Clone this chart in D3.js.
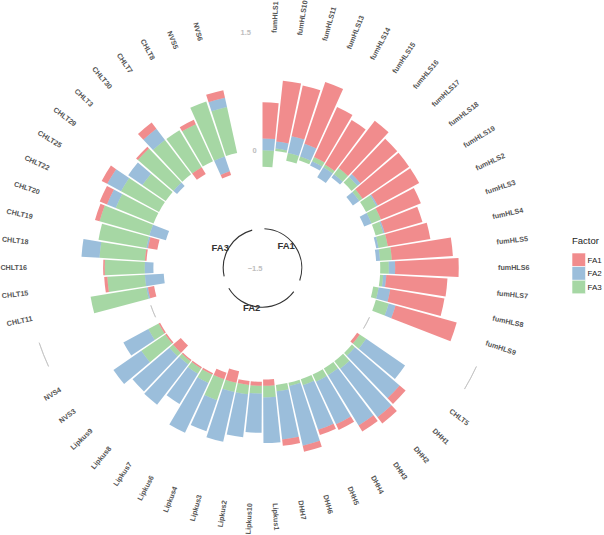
<!DOCTYPE html>
<html>
<head>
<meta charset="utf-8">
<script src="https://cdn.jsdelivr.net/npm/d3@7"></script>
<style>
  body { margin: 0; background: #fff; }
  text { font-family: "Liberation Sans", Arial, sans-serif; }
</style>
</head>
<body>
<div id="chart"></div>
<script>
// ---- data ----
var factors = ["FA1", "FA2", "FA3"];
var colors = ["#E41A1C", "#377EB8", "#4DAF4A"];

var items = [
  "fumHLS1", "fumHLS10", "fumHLS11", "fumHLS13", "fumHLS14", "fumHLS15", "fumHLS16", "fumHLS17", "fumHLS18",
  "fumHLS19", "fumHLS2", "fumHLS3", "fumHLS4", "fumHLS5", "fumHLS6", "fumHLS7", "fumHLS8", "fumHLS9",
  "CHLT5", "DHH1", "DHH2", "DHH3", "DHH4", "DHH5", "DHH6", "DHH7", "Lipkus1", "Lipkus10", "Lipkus2",
  "Lipkus3", "Lipkus4", "Lipkus6", "Lipkus7", "Lipkus8", "Lipkus9", "NVS3", "NVS4",
  "CHLT11", "CHLT15", "CHLT16", "CHLT18", "CHLT19", "CHLT20", "CHLT22", "CHLT25", "CHLT29", "CHLT3",
  "CHLT30", "CHLT7", "CHLT8", "NVS5", "NVS6"
];
var itemGroup = [
  "FA1", "FA1", "FA1", "FA1", "FA1", "FA1", "FA1", "FA1", "FA1", "FA1", "FA1", "FA1", "FA1", "FA1", "FA1", "FA1", "FA1", "FA1",
  "FA2", "FA2", "FA2", "FA2", "FA2", "FA2", "FA2", "FA2", "FA2", "FA2", "FA2", "FA2", "FA2", "FA2", "FA2", "FA2", "FA2", "FA2", "FA2",
  "FA3", "FA3", "FA3", "FA3", "FA3", "FA3", "FA3", "FA3", "FA3", "FA3", "FA3", "FA3", "FA3", "FA3", "FA3"
];
var loadFA1 = [
  0.46, 0.78, 0.66, 0.83, 0.70, 0.66, 0.76, 0.62, 0.72, 0.60, 0.55, 0.50, 0.55, 0.78, 0.81, 0.78, 0.70, 0.81,
  -0.04, 0.10, 0.10, 0.09, 0.08, 0.07, 0.08, 0.08, -0.08, -0.05, -0.05, -0.15, -0.09, -0.02, -0.02, -0.02, -0.13, -0.02, -0.02,
  -0.08, 0.04, 0.02, -0.02, -0.12, 0.06, 0.10, 0.08, 0.00, 0.03, 0.10, -0.10, 0.06, -0.05, 0.10
];
var loadFA2 = [
  0.15, 0.09, 0.22, 0.17, -0.06, -0.15, -0.05, 0.05, -0.10, 0.02, -0.10, 0.02, -0.03, -0.05, 0.08, 0.04, 0.15, 0.09,
  0.60, 0.75, 0.78, 0.75, 0.60, 0.60, 0.78, 0.62, 0.58, 0.50, 0.55, 0.65, 0.42, 0.70, 0.45, 0.65, 0.62, 0.43, 0.36,
  -0.02, -0.24, -0.11, 0.23, -0.02, -0.22, 0.12, 0.20, 0.22, -0.06, 0.18, 0.00, 0.00, -0.20, 0.12
];
var loadFA3 = [
  -0.21, 0.03, -0.10, -0.05, 0.06, 0.04, 0.10, 0.10, 0.05, 0.15, 0.13, 0.10, 0.12, 0.15, 0.11, 0.04, -0.07, 0.17,
  0.10, 0.05, 0.12, 0.10, 0.10, 0.08, 0.04, 0.08, 0.15, 0.10, 0.12, 0.12, 0.28, 0.12, 0.08, 0.05, 0.06, 0.37, 0.15,
  0.72, 0.48, 0.51, 0.58, 0.62, 0.66, 0.52, 0.55, 0.36, 0.60, 0.55, 0.55, 0.52, 0.74, 0.60
];
var yTicks = [-1.5, 0, 1.5];
var emptyBars = 2;

// ---- layout ----
var width = 604, height = 535;
var cx = 262.5, cy = 268;

var svg = d3.select("#chart").append("svg")
  .attr("width", width)
  .attr("height", height);

var g = svg.append("g").attr("transform", "translate(" + cx + "," + cy + ")");

// give every item an id, leaving empty slots after each group
var rows = [];
var id = 0;
factors.forEach(function (f) {
  items.forEach(function (name, i) {
    if (itemGroup[i] != f) return;
    id++;
    rows.push({ id: id, name: name, group: f, vals: [loadFA1[i], loadFA2[i], loadFA3[i]] });
  });
  id += emptyBars;
});
var nBar = id;

var x = d3.scaleLinear().domain([0.55, nBar + 0.45]).range([0, 2 * Math.PI]);
var r = d3.scaleLinear().domain([-1.5, 1.5]).range([0, 235.5]);

// stack: FA3 nearest to zero, then FA2, then FA1 (positives out, negatives in)
var segs = [];
rows.forEach(function (d) {
  var pos = 0, neg = 0;
  [2, 1, 0].forEach(function (k) {
    var v = d.vals[k];
    if (v >= 0) { segs.push({ id: d.id, k: k, y0: pos, y1: pos + v }); pos += v; }
    else { segs.push({ id: d.id, k: k, y0: neg + v, y1: neg }); neg += v; }
  });
});

var arc = d3.arc()
  .startAngle(function (d) { return x(d.id - 0.45); })
  .endAngle(function (d) { return x(d.id + 0.45); })
  .innerRadius(function (d) { return r(d.y0); })
  .outerRadius(function (d) { return r(d.y1); });

g.append("g").selectAll("path")
  .data(segs.filter(function (d) { return d.y1 > d.y0; }))
  .enter().append("path")
  .attr("d", arc)
  .attr("fill", function (d) { return colors[d.k]; })
  .attr("fill-opacity", 0.5);

// grey grid segments in the gaps between groups
var groupInfo = factors.map(function (f) {
  var ids = rows.filter(function (d) { return d.group == f; }).map(function (d) { return d.id; });
  return { group: f, start: d3.min(ids), end: d3.max(ids) };
});
var gridData = [];
for (var i = 1; i < groupInfo.length; i++) {
  [0, 1.5].forEach(function (v) {
    gridData.push({ a0: x(groupInfo[i - 1].end + 1), a1: x(groupInfo[i].start - 1), v: v });
  });
}
g.append("g").selectAll("path")
  .data(gridData)
  .enter().append("path")
  .attr("d", function (d) {
    return d3.arc()({ innerRadius: r(d.v), outerRadius: r(d.v), startAngle: d.a0, endAngle: d.a1 });
  })
  .attr("fill", "none")
  .attr("stroke", "#bebebe")
  .attr("stroke-width", 0.7);

// y labels in the last gap
g.append("g").selectAll("text")
  .data(yTicks)
  .enter().append("text")
  .attr("x", function (d) { return r(d) * Math.sin(x(nBar)); })
  .attr("y", function (d) { return -r(d) * Math.cos(x(nBar)); })
  .attr("text-anchor", "end")
  .attr("dy", "0.35em")
  .attr("fill", "#bebebe")
  .style("font-size", "7.5px")
  .style("font-weight", "bold")
  .text(function (d) { return d3.format("")(d); });

// item labels
g.append("g").selectAll("text")
  .data(rows)
  .enter().append("text")
  .attr("transform", function (d) {
    var a = x(d.id);
    var ang = 90 - 360 * (d.id - 0.5) / nBar;
    if (ang < -90) ang += 180;
    return "translate(" + (r(1.5) * Math.sin(a)) + "," + (-r(1.5) * Math.cos(a)) + ") rotate(" + (-ang) + ")";
  })
  .attr("text-anchor", function (d) {
    return (90 - 360 * (d.id - 0.5) / nBar) < -90 ? "end" : "start";
  })
  .attr("dy", "0.35em")
  .attr("fill", "#555")
  .style("font-size", "7.2px")
  .style("font-weight", "bold")
  .text(function (d) { return d.name; });

// group base lines and titles
g.append("g").selectAll("path")
  .data(groupInfo)
  .enter().append("path")
  .attr("d", function (d) {
    return d3.arc()({ innerRadius: r(-1), outerRadius: r(-1), startAngle: x(d.start), endAngle: x(d.end) });
  })
  .attr("fill", "none")
  .attr("stroke", "#333")
  .attr("stroke-width", 1.1);

g.append("g").selectAll("text")
  .data(groupInfo)
  .enter().append("text")
  .attr("x", function (d) { return r(-1) * Math.sin(x((d.start + d.end) / 2)); })
  .attr("y", function (d) { return -r(-1) * Math.cos(x((d.start + d.end) / 2)); })
  .attr("text-anchor", "end")
  .attr("dy", "0.35em")
  .attr("fill", "#333")
  .style("font-size", "9.5px")
  .style("font-weight", "bold")
  .text(function (d) { return d.group; });

// legend
var legend = svg.append("g").attr("transform", "translate(572,236)");
legend.append("text")
  .attr("x", 0).attr("y", 8)
  .attr("fill", "#222")
  .style("font-size", "9.5px")
  .text("Factor");
var keys = legend.selectAll("g.key")
  .data(factors)
  .enter().append("g")
  .attr("class", "key")
  .attr("transform", function (d, i) { return "translate(0," + (17 + i * 13.6) + ")"; });
keys.append("rect")
  .attr("width", 13.6).attr("height", 13.6)
  .attr("fill", function (d, i) { return colors[i]; })
  .attr("fill-opacity", 0.5)
  .attr("stroke", "#fff")
  .attr("stroke-width", 0.6);
keys.append("text")
  .attr("x", 15.5).attr("y", 6.8)
  .attr("dy", "0.35em")
  .attr("fill", "#222")
  .style("font-size", "8px")
  .text(function (d) { return d; });
</script>
</body>
</html>
